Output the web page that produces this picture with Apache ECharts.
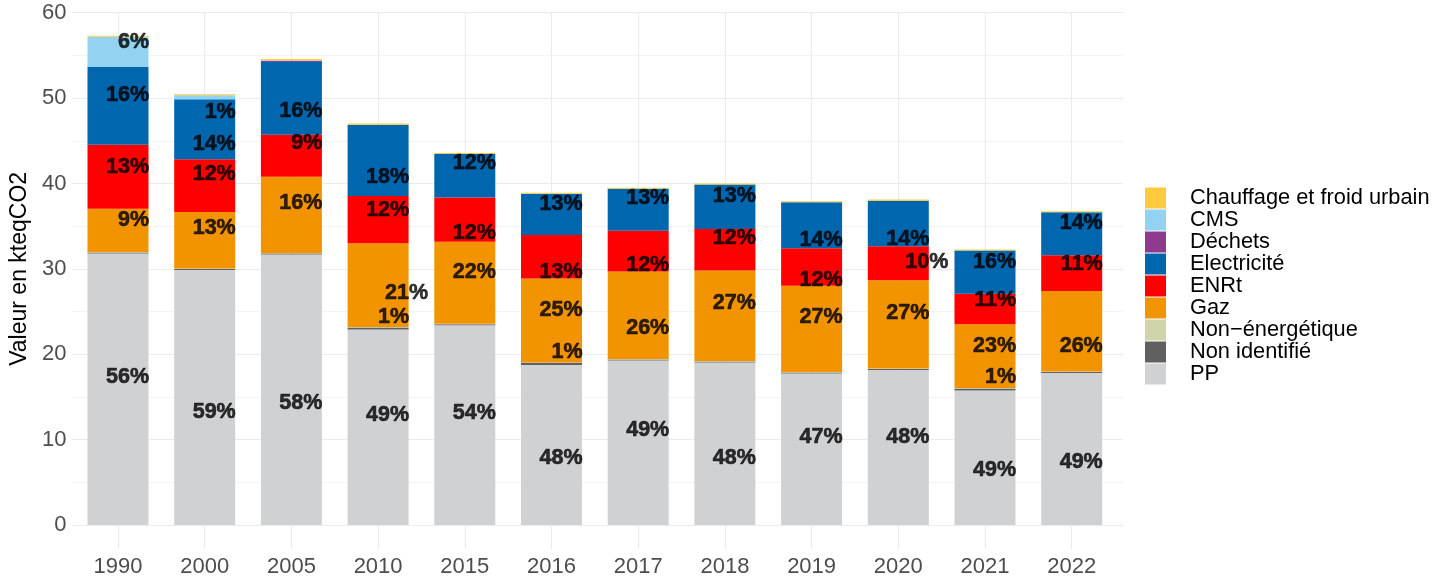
<!DOCTYPE html>
<html>
<head>
<meta charset="utf-8">
<script src="https://cdn.jsdelivr.net/npm/echarts@6/dist/echarts.min.js"></script>
<style>
  html, body { margin: 0; padding: 0; background: #fff; }
  #chart { width: 1450px; height: 579px; }
</style>
</head>
<body>
<div id="chart"></div>
<script>
const years = ["1990", "2000", "2005", "2010", "2015", "2016", "2017", "2018", "2019", "2020", "2021", "2022"];

// secteurs, du bas de la pile vers le haut (kteqCO2)
const pp             = [31.8, 29.86, 31.67, 22.89, 23.4, 18.74, 19.26, 19.03, 17.74, 18.15, 15.75, 17.8];
const nonIdentifie   = [0.12, 0.12, 0.12, 0.25, 0.12, 0.25, 0.12, 0.12, 0.12, 0.12, 0.25, 0.12];
const nonEnergetique = [0.05, 0.05, 0.05, 0.05, 0.05, 0.05, 0.05, 0.05, 0.05, 0.05, 0.05, 0.05];
const gaz            = [5.07, 6.63, 8.95, 9.8, 9.6, 9.84, 10.26, 10.62, 10.1, 10.34, 7.45, 9.45];
const enrt           = [7.49, 6.17, 4.92, 5.54, 5.19, 5.07, 4.77, 4.84, 4.4, 3.98, 3.59, 4.18];
const electricite    = [9.1, 7.03, 8.51, 8.36, 5.08, 4.85, 4.92, 5.23, 5.39, 5.35, 5.05, 5.04];
const dechets        = [0, 0, 0.15, 0, 0, 0, 0, 0, 0, 0, 0, 0];
const cms            = [3.55, 0.47, 0.05, 0, 0, 0, 0, 0, 0, 0, 0, 0];
const chauffage      = [0.12, 0.12, 0.15, 0.12, 0.12, 0.12, 0.12, 0.12, 0.12, 0.12, 0.12, 0.12];

// étiquettes de parts (position, en kteqCO2)
const labelYears  = ["1990","1990","1990","1990","1990",
                     "2000","2000","2000","2000","2000",
                     "2005","2005","2005","2005",
                     "2010","2010","2010","2010","2010",
                     "2015","2015","2015","2015",
                     "2016","2016","2016","2016","2016",
                     "2017","2017","2017","2017",
                     "2018","2018","2018","2018",
                     "2019","2019","2019","2019",
                     "2020","2020","2020","2020",
                     "2021","2021","2021","2021","2021",
                     "2022","2022","2022","2022"];
const labelTexts  = ["6%","16%","13%","9%","56%",
                     "1%","14%","12%","13%","59%",
                     "16%","9%","16%","58%",
                     "18%","12%","21%","1%","49%",
                     "12%","12%","22%","54%",
                     "13%","13%","25%","1%","48%",
                     "13%","12%","26%","49%",
                     "13%","12%","27%","48%",
                     "14%","12%","27%","47%",
                     "14%","10%","27%","48%",
                     "16%","11%","23%","1%","49%",
                     "14%","11%","26%","49%"];
const labelValues = [56.55, 50.35, 41.95, 35.71, 17.37,
                     48.4, 44.6, 41.1, 34.74, 13.23,
                     48.48, 44.7, 37.74, 14.29,
                     40.8, 36.9, 27.2, 24.3, 12.88,
                     42.35, 34.16, 29.67, 13.11,
                     37.59, 29.67, 25.18, 20.22, 7.85,
                     38.25, 30.44, 23.03, 11.12,
                     38.56, 33.57, 25.96, 7.85,
                     33.37, 28.69, 24.39, 10.3,
                     33.49, 30.76, 24.79, 10.3,
                     30.83, 26.35, 20.96, 17.29, 6.44,
                     35.33, 30.56, 20.96, 7.38];
// étiquettes repoussées hors de la barre
const labelsPushed = ["2010 21%", "2020 10%"];

const sectors = [
  { name: "PP", data: pp, color: "#d0d1d3" },
  { name: "Non identifié", data: nonIdentifie, color: "#606060" },
  { name: "Non\u2212énergétique", data: nonEnergetique, color: "#d1d3aa" },
  { name: "Gaz", data: gaz, color: "#f29400" },
  { name: "ENRt", data: enrt, color: "#ff0000" },
  { name: "Electricité", data: electricite, color: "#0066ae" },
  { name: "Déchets", data: dechets, color: "#8e3a8e" },
  { name: "CMS", data: cms, color: "#93d3f1" },
  { name: "Chauffage et froid urbain", data: chauffage, color: "#fecb3e" }
];

const font = "'Liberation Sans', Arial, Helvetica, sans-serif";
const gridColor = "#ebebeb";

const myChart = echarts.init(document.getElementById("chart"), null, { renderer: "canvas" });

const barSeries = sectors.map(s => ({
  name: s.name,
  type: "bar",
  stack: "total",
  xAxisIndex: 1,
  yAxisIndex: 1,
  barWidth: 61,
  data: s.data,
  itemStyle: { color: s.color },
  emphasis: { disabled: true },
  z: 3
}));

const labelData = labelTexts.map((t, i) => {
  const pushed = labelsPushed.indexOf(labelYears[i] + " " + t) >= 0;
  return {
    value: [labelYears[i], labelValues[i]],
    name: t,
    label: { position: [pushed ? 50 : 31, 0] }
  };
});

const option = {
  backgroundColor: "#fff",
  animation: false,
  textStyle: { fontFamily: font },
  grid: [
    // fond : quadrillage horizontal
    { left: 67, right: 327, top: 12.7, bottom: 54 },
    // barres
    { left: 74.65, right: 334.95, top: 12.7, bottom: 54 }
  ],
  legend: {
    orient: "vertical",
    left: 1140,
    top: 182,
    itemWidth: 21,
    itemHeight: 21,
    itemGap: 0,
    icon: "rect",
    selectedMode: false,
    data: sectors.map(s => s.name).reverse(),
    textStyle: {
      fontFamily: font,
      fontSize: 21.8,
      color: "#000",
      lineHeight: 21.7,
      padding: [0, 0, 0, 19]
    }
  },
  xAxis: [
    { gridIndex: 0, type: "value", show: false, min: 0, max: 1 },
    {
      gridIndex: 1,
      type: "category",
      data: years,
      axisLine: { show: false },
      axisTick: { show: true, alignWithLabel: true, length: 24, lineStyle: { color: gridColor, width: 1.1 } },
      axisLabel: { color: "#4d4d4d", fontSize: 22, margin: 31, fontFamily: font },
      splitLine: { show: false }
    }
  ],
  yAxis: [
    {
      gridIndex: 0,
      type: "value",
      min: 0,
      max: 60,
      interval: 10,
      name: "Valeur en kteqCO2",
      nameLocation: "middle",
      nameGap: 40,
      nameRotate: 90,
      nameTextStyle: { color: "#000", fontSize: 23, fontFamily: font },
      axisLine: { show: false },
      axisTick: { show: false },
      axisLabel: { color: "#4d4d4d", fontSize: 22, margin: 6, fontFamily: font },
      splitLine: { show: true, lineStyle: { color: gridColor, width: 1.1 } },
      minorTick: { show: false, splitNumber: 2 },
      minorSplitLine: { show: true, lineStyle: { color: gridColor, width: 0.6 } }
    },
    { gridIndex: 1, type: "value", min: 0, max: 60, show: false }
  ],
  series: [
    {
      // quadrillage vertical au centre des années
      name: "grille",
      type: "line",
      xAxisIndex: 1,
      yAxisIndex: 1,
      data: [],
      z: 1,
      silent: true,
      markLine: {
        silent: true,
        z: 1,
        symbol: "none",
        animation: false,
        label: { show: false },
        lineStyle: { color: gridColor, width: 1.1, type: "solid" },
        emphasis: { disabled: true },
        data: years.map(y => ({ xAxis: y }))
      }
    },
    ...barSeries,
    {
      name: "parts",
      type: "scatter",
      xAxisIndex: 1,
      yAxisIndex: 1,
      symbolSize: 0,
      silent: true,
      z: 10,
      data: labelData,
      label: {
        show: true,
        formatter: p => p.name,
        align: "right",
        verticalAlign: "middle",
        color: "#000",
        textBorderWidth: 0.6,
        textBorderColor: "#000",
        fontWeight: "bold",
        fontSize: 21.5,
        fontFamily: font
      }
    }
  ]
};

myChart.setOption(option);
</script>
</body>
</html>
